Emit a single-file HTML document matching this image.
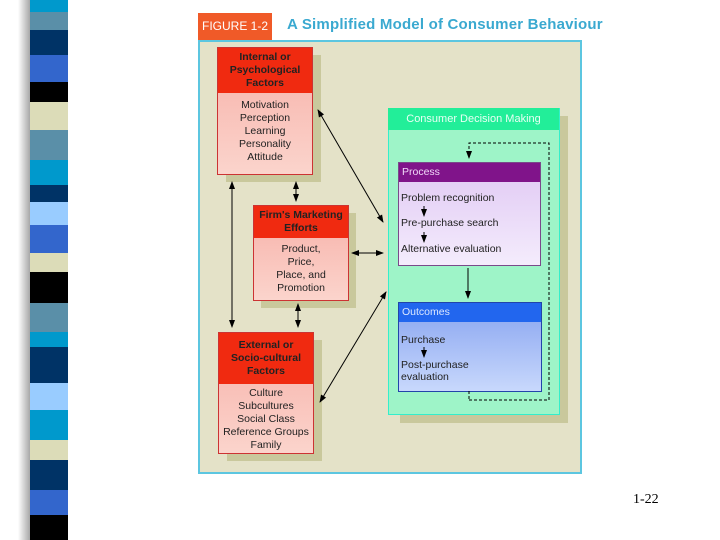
<!DOCTYPE html>
<html><head><style>
body{margin:0;width:720px;height:540px;background:#fff;position:relative;overflow:hidden;font-family:"Liberation Sans",sans-serif}
.a{position:absolute}
.stripe{position:absolute;left:30px;width:38px}
.box{position:absolute;border:1px solid #c33;text-align:center;font-size:10.5px;color:#222;line-height:13px}
.hd{background:#f02a10;font-weight:bold;color:#222;display:flex;align-items:center;justify-content:center;line-height:13px}
.sh{position:absolute;background:#c9c89c}
</style></head><body>
<div class="a" style="left:18px;top:0;width:14px;height:540px;background:linear-gradient(to right,#fff,#999)"></div>
<div class="stripe" style="top:0;height:12px;background:#0099cc"></div>
<div class="stripe" style="top:12px;height:18px;background:#5a8fa8"></div>
<div class="stripe" style="top:30px;height:25px;background:#003366"></div>
<div class="stripe" style="top:55px;height:27px;background:#3366cc"></div>
<div class="stripe" style="top:82px;height:20px;background:#000"></div>
<div class="stripe" style="top:102px;height:28px;background:#dcdcb8"></div>
<div class="stripe" style="top:130px;height:30px;background:#5a8fa8"></div>
<div class="stripe" style="top:160px;height:25px;background:#0099cc"></div>
<div class="stripe" style="top:185px;height:17px;background:#003366"></div>
<div class="stripe" style="top:202px;height:23px;background:#99ccff"></div>
<div class="stripe" style="top:225px;height:28px;background:#3366cc"></div>
<div class="stripe" style="top:253px;height:19px;background:#dcdcb8"></div>
<div class="stripe" style="top:272px;height:31px;background:#000"></div>
<div class="stripe" style="top:303px;height:29px;background:#5a8fa8"></div>
<div class="stripe" style="top:332px;height:15px;background:#0099cc"></div>
<div class="stripe" style="top:347px;height:36px;background:#003366"></div>
<div class="stripe" style="top:383px;height:27px;background:#99ccff"></div>
<div class="stripe" style="top:410px;height:30px;background:#0099cc"></div>
<div class="stripe" style="top:440px;height:20px;background:#dcdcb8"></div>
<div class="stripe" style="top:460px;height:30px;background:#003366"></div>
<div class="stripe" style="top:490px;height:25px;background:#3366cc"></div>
<div class="stripe" style="top:515px;height:25px;background:#000"></div>

<div class="a" style="left:198px;top:13px;width:74px;height:27px;background:#f05a28;color:#fff;font-size:12px;line-height:27px;text-align:center">FIGURE 1-2</div>
<div class="a" style="left:287px;top:16px;font-size:15px;color:#3aa9d0;font-weight:bold;letter-spacing:0.2px">A Simplified Model of Consumer Behaviour</div>
<div class="a" style="left:198px;top:40px;width:380px;height:430px;border:2px solid #5cc6e0;background:#e4e2c8"></div>

<div class="sh" style="left:226px;top:55px;width:95px;height:127px"></div>
<div class="box" style="left:217px;top:47px;width:94px;height:126px;background:linear-gradient(#f7b0a8,#fbd4cc)">
<div class="hd" style="height:45px">Internal or<br>Psychological<br>Factors</div>
<div style="padding-top:6px">Motivation<br>Perception<br>Learning<br>Personality<br>Attitude</div></div>

<div class="sh" style="left:261px;top:213px;width:95px;height:95px"></div>
<div class="box" style="left:253px;top:205px;width:94px;height:94px;background:linear-gradient(#f7b0a8,#fbd4cc)">
<div class="hd" style="height:32px">Firm's Marketing<br>Efforts</div>
<div style="padding-top:5px">Product,<br>Price,<br>Place, and<br>Promotion</div></div>

<div class="sh" style="left:227px;top:340px;width:95px;height:121px"></div>
<div class="box" style="left:218px;top:332px;width:94px;height:120px;background:linear-gradient(#f7b0a8,#fbd4cc)">
<div class="hd" style="height:51px">External or<br>Socio-cultural<br>Factors</div>
<div style="padding-top:3px">Culture<br>Subcultures<br>Social Class<br>Reference Groups<br>Family</div></div>

<div class="sh" style="left:400px;top:116px;width:168px;height:307px"></div>
<div class="a" style="left:388px;top:108px;width:170px;height:305px;background:#9ef4c8;border:1px solid #3ec"></div>
<div class="a" style="left:388px;top:108px;width:171px;height:22px;background:#22ee99;color:#e8fff4;font-size:11px;line-height:22px;text-align:center">Consumer Decision Making</div>

<div class="a" style="left:398px;top:162px;width:141px;height:102px;border:1px solid #7a4a8a;background:linear-gradient(#e0c8f4,#f4ecfc);font-size:10.5px;color:#222">
<div style="background:#80148a;color:#f0d8f8;height:19px;line-height:19px;padding-left:3px">Process</div>
<div class="a" style="left:2px;top:29px">Problem recognition</div>
<div class="a" style="left:2px;top:54px">Pre-purchase search</div>
<div class="a" style="left:2px;top:80px">Alternative evaluation</div></div>

<div class="a" style="left:398px;top:302px;width:142px;height:88px;border:1px solid #2244aa;background:linear-gradient(#88a4f0,#c8d8fc);font-size:10.5px;color:#222">
<div style="background:#2266ee;color:#dde8ff;height:19px;line-height:19px;padding-left:3px">Outcomes</div>
<div class="a" style="left:2px;top:31px">Purchase</div>
<div class="a" style="left:2px;top:56px;line-height:12px">Post-purchase<br>evaluation</div></div>

<svg class="a" style="left:0;top:0" width="720" height="540">
<defs><marker id="m" markerWidth="8" markerHeight="8" refX="7" refY="4" orient="auto-start-reverse"><path d="M0,1 L8,4 L0,7z" fill="#000"/></marker></defs>
<g stroke="#000" stroke-width="1" fill="none">
<line x1="318" y1="110" x2="383" y2="222" marker-start="url(#m)" marker-end="url(#m)"/>
<line x1="296" y1="182" x2="296" y2="201" marker-start="url(#m)" marker-end="url(#m)"/>
<line x1="232" y1="182" x2="232" y2="327" marker-start="url(#m)" marker-end="url(#m)"/>
<line x1="352" y1="253" x2="383" y2="253" marker-start="url(#m)" marker-end="url(#m)"/>
<line x1="298" y1="304" x2="298" y2="327" marker-start="url(#m)" marker-end="url(#m)"/>
<line x1="320" y1="402" x2="386" y2="292" marker-start="url(#m)" marker-end="url(#m)"/>
<line x1="468" y1="268" x2="468" y2="298" marker-end="url(#m)"/>
<line x1="424" y1="206" x2="424" y2="216" marker-end="url(#m)"/>
<line x1="424" y1="232" x2="424" y2="242" marker-end="url(#m)"/>
<line x1="424" y1="347" x2="424" y2="357" marker-end="url(#m)"/>
<path d="M469,400 L549,400 L549,143 L469,143 L469,158" stroke-dasharray="3,2" marker-end="url(#m)"/>
<line x1="469" y1="391" x2="469" y2="400" stroke-dasharray="3,2"/>
</g></svg>
<div class="a" style="left:633px;top:492px;font-family:'Liberation Serif',serif;font-size:14px">1-22</div>
</body></html>
